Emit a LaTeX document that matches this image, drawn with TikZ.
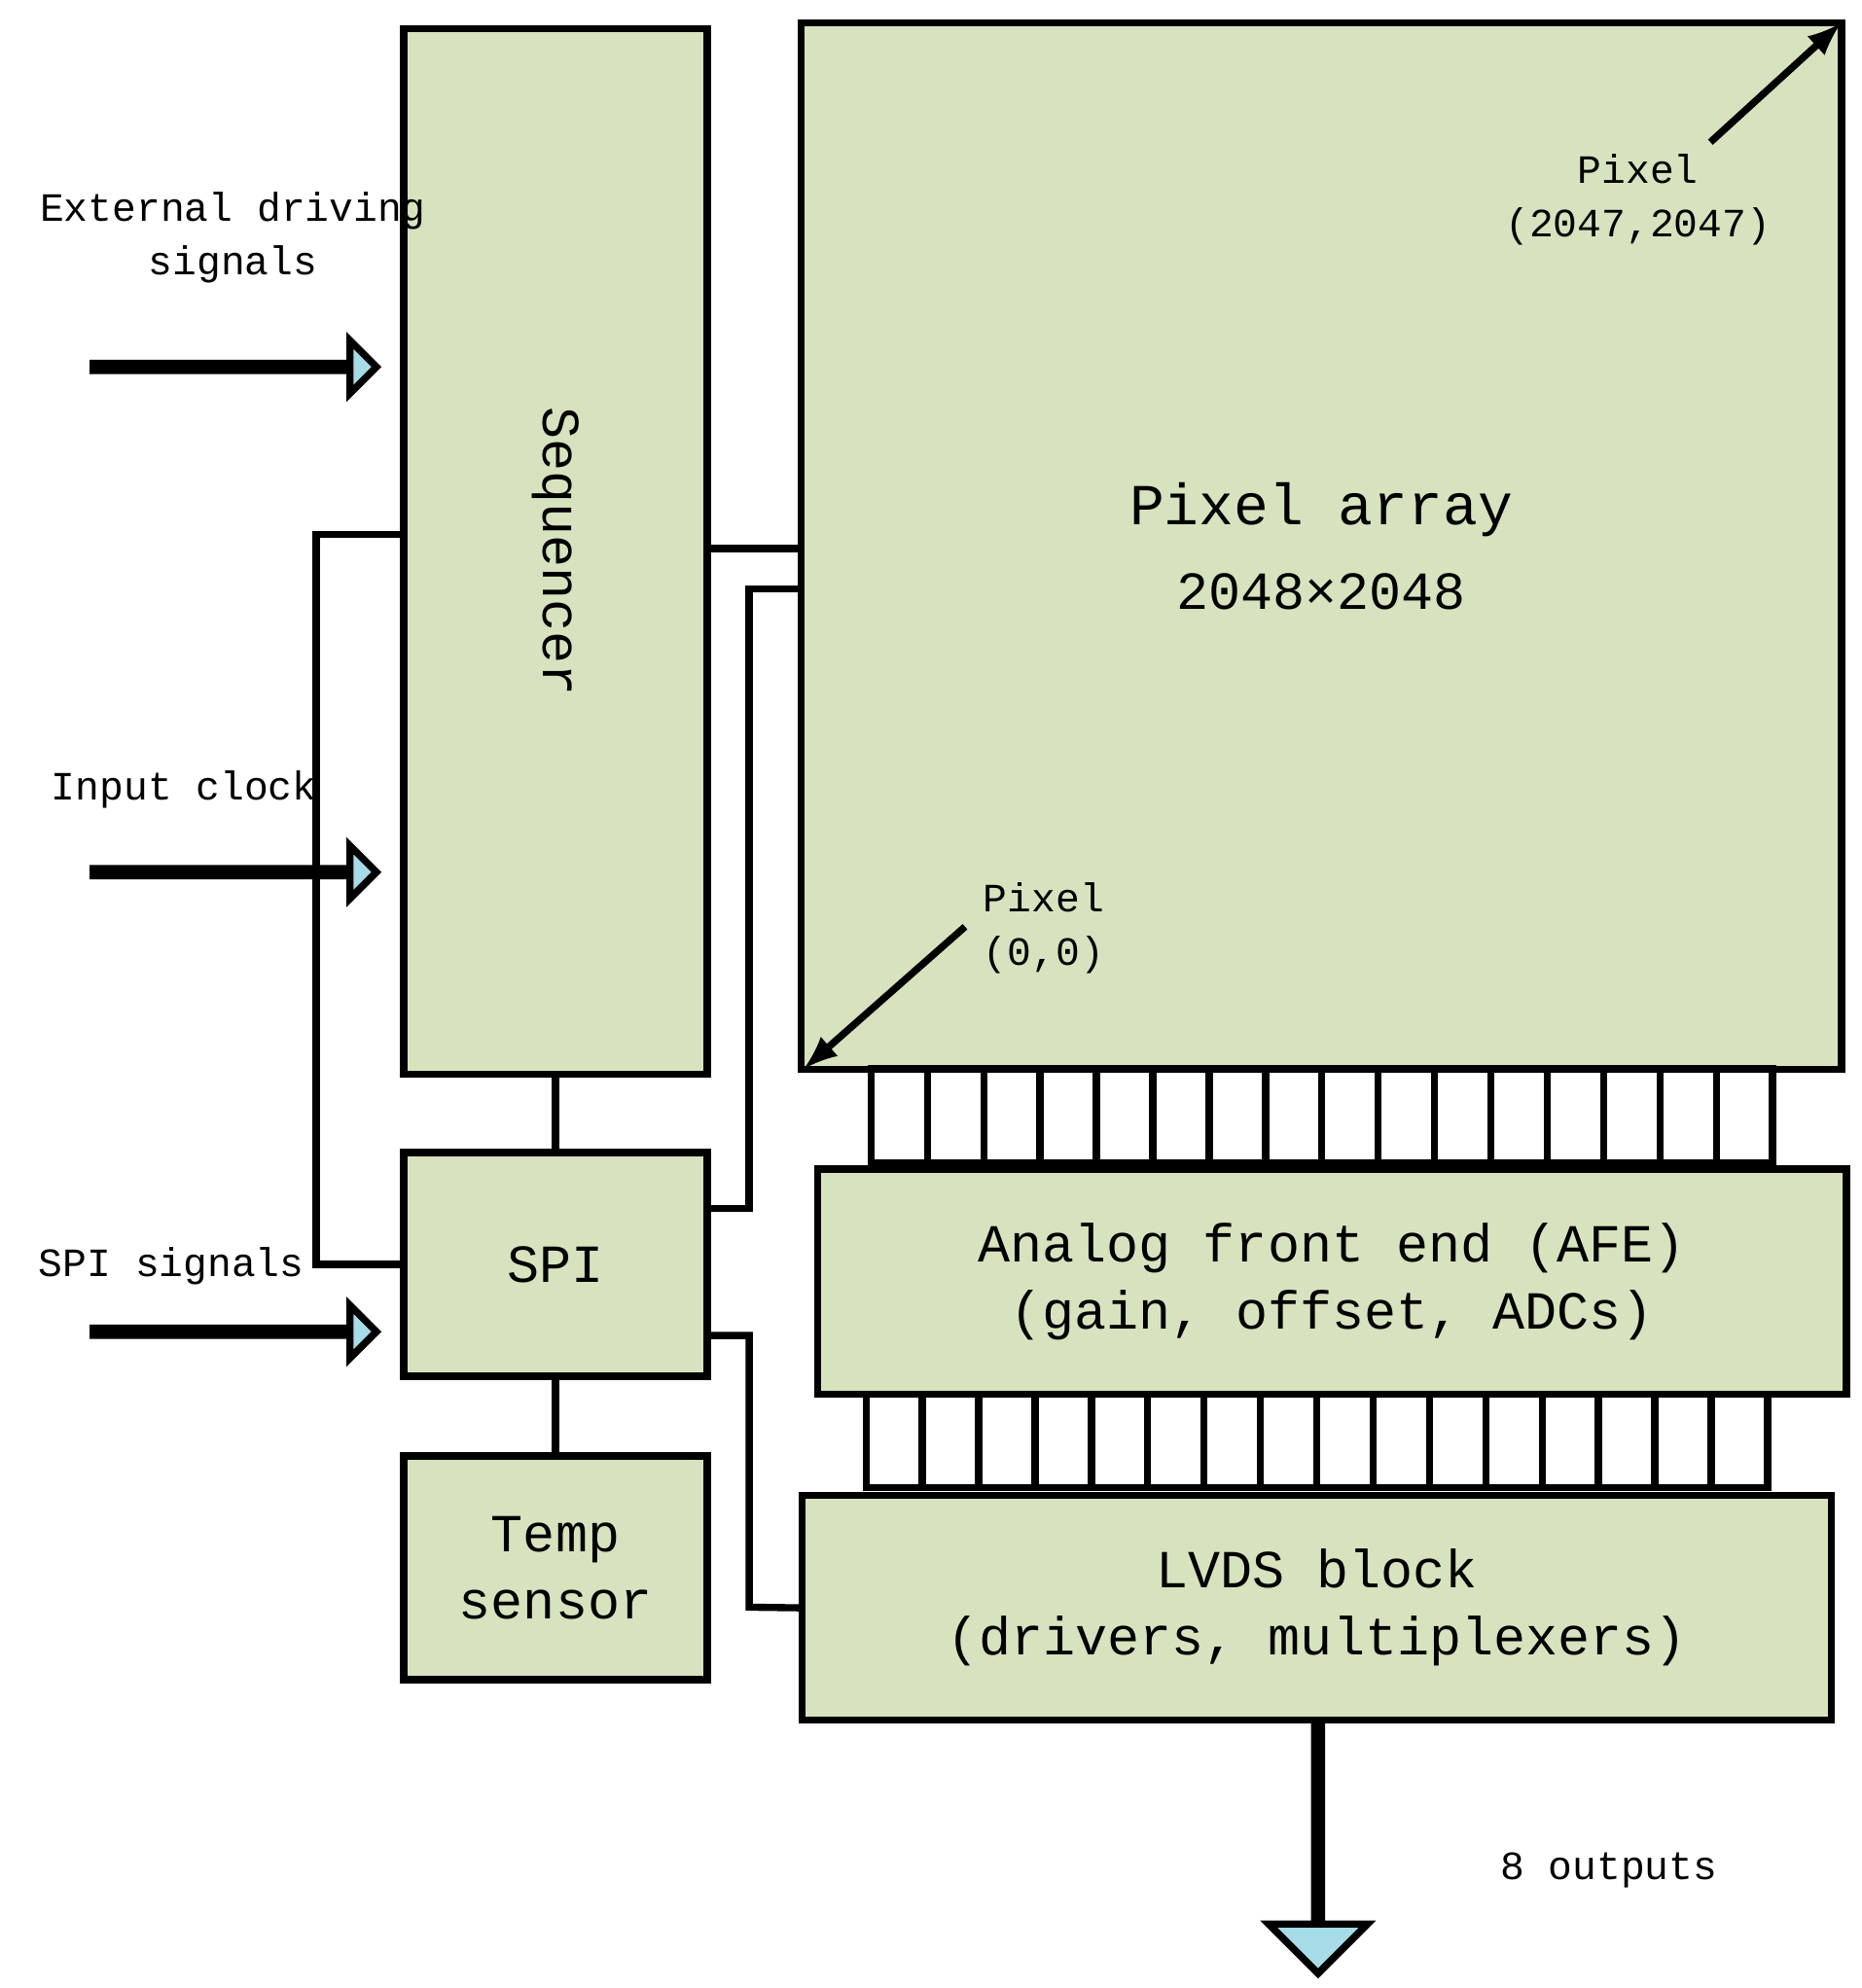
\documentclass[tikz,border=0pt]{standalone}
\usepackage{fontspec}
\setmainfont{Liberation Mono}
\usetikzlibrary{positioning,shapes.arrows}
\definecolor{blockgreen}{RGB}{214,227,190}
\definecolor{arrowblue}{RGB}{166,220,232}

\begin{document}
\begin{tikzpicture}[x=0.01cm,y=-0.01cm,
	block/.style={draw, line width=1.6pt, fill=blockgreen, inner sep=0pt},
	cell/.style={draw, line width=1.6pt, fill=white, minimum width=44.4\pgfutil@empty, inner sep=0pt},
	fatarrow/.style={draw, line width=1.6pt, fill=arrowblue, single arrow,
		single arrow head extend=0.18cm, inner sep=0pt, minimum height=2.23cm, minimum width=0.36cm},
	wire/.style={line width=1.6pt},
	lbl/.style={font=\fontsize{9}{12}\selectfont, align=center},
	big/.style={font=\fontsize{12}{15}\selectfont, align=center}]

\useasboundingbox (0,0) rectangle (1466,1566);

% Main blocks
\node[block, minimum width=2.39cm, minimum height=8.23cm] (sequencer) at (437.5,434.5) {};
\node[rotate=-90, big] at (sequencer) {Sequencer};
\node[block, minimum width=8.19cm, minimum height=8.24cm, big] (pixarray) at (1040.5,430)
	{\fontsize{13}{16}\selectfont Pixel array\\[4pt]2048×2048};
\node[block, minimum width=2.39cm, minimum height=1.76cm, big] (spi) at (437.5,996) {SPI};
\node[block, minimum width=2.39cm, minimum height=1.76cm, big] (temp) at (437.5,1235) {Temp\\sensor};
\node[block, minimum width=8.10cm, minimum height=1.77cm, big] (afe) at (1049,1009.5)
	{Analog front end (AFE)\\(gain, offset, ADCs)};
\node[block, minimum width=8.10cm, minimum height=1.77cm, big] (lvds) at (1037,1266.5)
	{LVDS block\\(drivers, multiplexers)};

%%%%%%%%%%%%%%%%%%%
% Column strips
\foreach \i in {0,...,15} {
	\draw[line width=1.6pt, fill=white] (686+\i*44.375,842) rectangle ++(44.375,74);
	\draw[line width=1.6pt, fill=white] (682+\i*44.375,1098) rectangle ++(44.375,74);
}

%%%%%%%%%%%%%%%%%%%
% Inputs
\node[fatarrow] (in_ext) at (183.5,289) {};
\node[fatarrow] (in_clk) at (183.5,687) {};
\node[fatarrow] (in_spi) at (183.5,1049) {};
\node[lbl, above=0.48cm of in_ext.north, anchor=south] (l_ext) {External driving\\signals};
\node[lbl] (l_clk) at (145,622) {Input clock};
\node[lbl] (l_spi) at (135,997) {SPI signals};

% Output
\node[fatarrow, rotate=-90, minimum height=1.98cm, minimum width=0.70cm,
	single arrow head extend=0.36cm] (out) at (1038,1454) {};
\node[lbl] (l_out) at (1267,1473) {8 outputs};

%%%%%%%%%%%%%%%%%%%
% Wires
\draw[wire] (sequencer.east |- 0,432) -- (pixarray.west |- 0,432);
\draw[wire] (spi.east |- 0,952) -- (590,952) -- (590,464) -- (pixarray.west |- 0,464);
\draw[wire] (spi.east |- 0,1052) -- (590,1052) -- (590,1266) -- (lvds.west);
\draw[wire] (sequencer.west |- 0,421) -- (249,421) -- (249,996) -- (spi.west);
\draw[wire] (sequencer.south) -- (spi.north);
\draw[wire] (spi.south) -- (temp.north);

%%%%%%%%%%%%%%%%%%%
% Pixel corners
\node[lbl] (p_top) at (1290,157) {Pixel\\(2047,2047)};
\node[lbl] (p_bot) at (822,731) {Pixel\\(0,0)};
\coordinate (c_top) at (1450,18);
\coordinate (c_bot) at (633,842);
\draw[wire, -latex] (1347,112) -- (c_top);
\draw[wire, -latex] (760,730) -- (c_bot);

\end{tikzpicture}
\end{document}
